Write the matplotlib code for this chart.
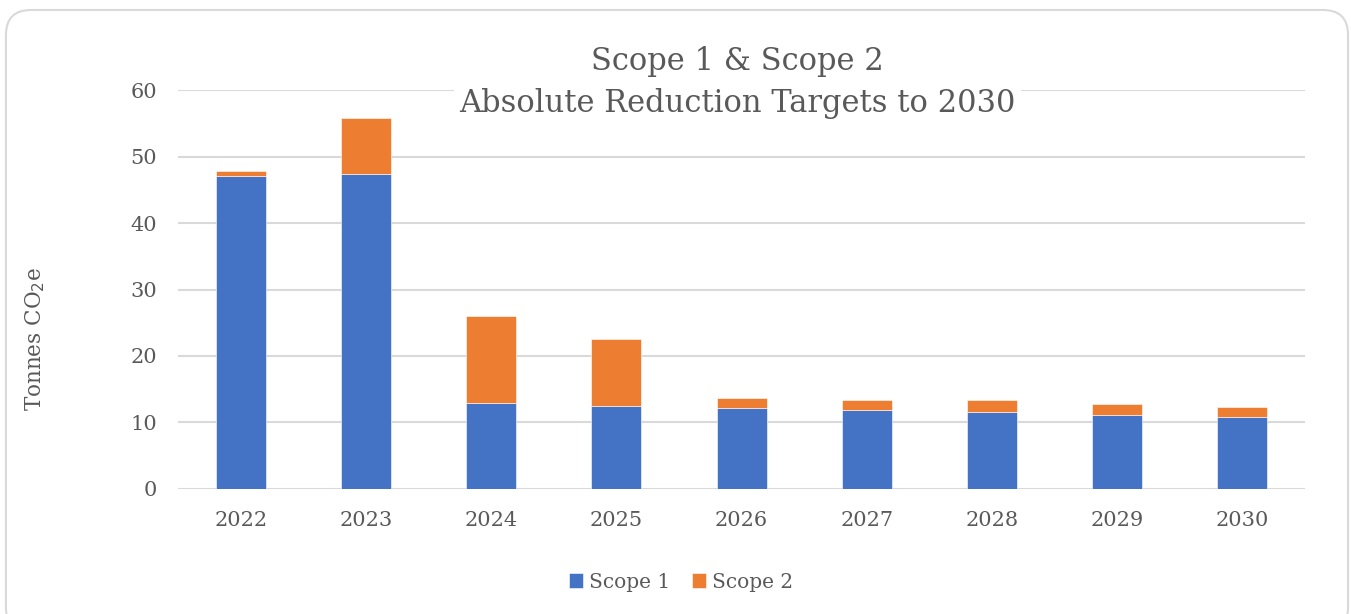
import matplotlib
matplotlib.use("Agg")
import matplotlib.pyplot as plt
from matplotlib.patches import FancyBboxPatch
import numpy as np

# data
years = ["2022", "2023", "2024", "2025", "2026", "2027", "2028", "2029", "2030"]
scope1 = [47.1, 47.3, 12.9, 12.5, 12.2, 11.9, 11.6, 11.2, 10.9]
scope2 = [0.7, 8.5, 13.1, 10.1, 1.5, 1.5, 1.8, 1.6, 1.5]

blue = "#4472C4"
orange = "#ED7D31"
grey = "#595959"

plt.rcParams['font.family'] = ['DejaVu Serif']

fig = plt.figure(figsize=(13.51, 6.14), dpi=100)
fig.patch.set_facecolor("white")

# rounded frame around the chart (bottom edge runs off the image)
frame = FancyBboxPatch((0.0044, -0.03), 0.9934, 1.0137, boxstyle="round,pad=0,rounding_size=0.0185",
                       transform=fig.transFigure, facecolor="none", edgecolor="#D9D9D9",
                       linewidth=1.5, mutation_aspect=1351 / 614, zorder=-1)
fig.patches.append(frame)

ax = fig.add_axes([0.1318, 0.2036, 0.8342, 0.6498])
ax.set_facecolor("none")

x = np.arange(len(years))
ax.bar(x, scope1, width=0.4, color=blue, edgecolor="white", linewidth=0.4, label="Scope 1", zorder=3)
ax.bar(x, scope2, width=0.4, bottom=scope1, color=orange, edgecolor="white", linewidth=0.4,
       label="Scope 2", zorder=3)

ax.set_xlim(-0.5, len(years) - 0.5)
ax.set_ylim(0, 60)
ax.set_yticks(range(0, 61, 10))
ax.set_xticks(x)
ax.set_xticklabels(years)
ax.yaxis.grid(True, color="#D9D9D9", linewidth=1.5, zorder=0)
ax.set_axisbelow(True)
for s in ax.spines.values():
    s.set_visible(False)
ax.tick_params(axis="both", length=0, colors=grey, labelsize=15)
ax.tick_params(axis="x", pad=16)
ax.tick_params(axis="y", pad=15)

# y label sits a bit below the axis centre, like the original
fig.text(0.026, 0.448, "Tonnes CO$_2$e", rotation=90, ha="center", va="center",
         fontsize=15.5, color=grey)

fig.text(0.546, 0.865, "Scope 1 & Scope 2\nAbsolute Reduction Targets to 2030", ha="center", va="center",
         fontsize=22, color=grey, linespacing=1.45, zorder=5,
         bbox=dict(facecolor="white", edgecolor="none", pad=4))

fig.legend(loc="center", bbox_to_anchor=(0.504, 0.052), ncol=2, frameon=False, fontsize=14.5,
           labelcolor=grey, handlelength=0.7, handleheight=0.7, handletextpad=0.3, columnspacing=1.1)

fig.savefig("out.png", dpi=100, facecolor="white")
